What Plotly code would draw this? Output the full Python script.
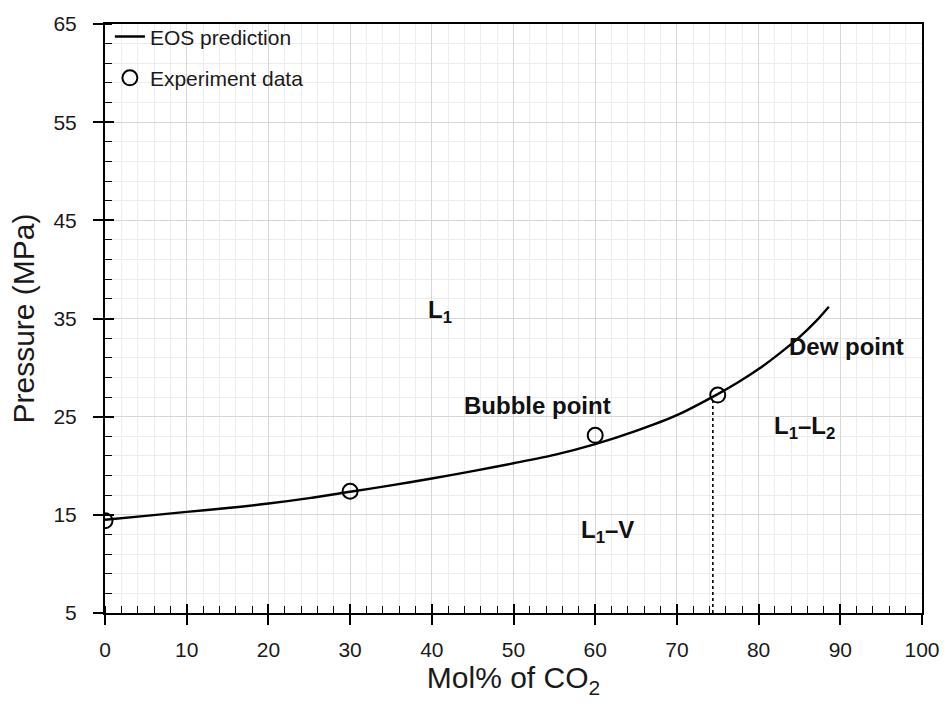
import plotly.graph_objects as go

# EOS-predicted saturation pressure curve
eos_co2 = [0, 5, 10, 15, 20, 25, 30, 35, 40, 45, 50, 55, 60, 65, 70, 75, 77.5, 80,
           82.5, 85, 87, 88.6]
eos_p = [14.5, 14.9, 15.3, 15.7, 16.15, 16.7, 17.35, 18.0, 18.7, 19.45, 20.25, 21.1,
         22.2, 23.55, 25.15, 27.3, 28.5, 29.85, 31.4, 33.1, 34.7, 36.2]

# Measured saturation pressures
exp_co2 = [0, 30, 60, 75]
exp_p = [14.4, 17.4, 23.1, 27.2]

# Boundary between bubble-point and dew-point behaviour
split_co2 = [74.4, 74.4]
split_p = [5, 26.6]

# Region labels
region_text = ["L<sub>1</sub>", "Bubble point", "L<sub>1</sub>\u2013V", "Dew point",
               "L<sub>1</sub>\u2013L<sub>2</sub>"]
region_x = [41.0, 52.9, 61.5, 90.8, 85.6]
region_y = [35.7, 26.1, 13.3, 32.1, 23.9]

x_ticks = list(range(0, 101, 10))
y_ticks = list(range(5, 66, 10))

FONT = "Liberation Sans"

fig = go.Figure()

fig.add_trace(go.Scatter(
    x=split_co2, y=split_p, mode="lines",
    line=dict(color="black", width=1.6, dash="dot"),
    showlegend=False, hoverinfo="skip"))

fig.add_trace(go.Scatter(
    x=eos_co2, y=eos_p, mode="lines", name="EOS prediction", legendgroup="eos",
    line=dict(color="black", width=2.4, shape="spline", smoothing=0.8)))

fig.add_trace(go.Scatter(
    x=exp_co2, y=exp_p, mode="markers", name="Experiment data", legendgroup="exp",
    marker=dict(symbol="circle-open", size=15, color="black",
                line=dict(color="black", width=2))))

for t, xv, yv in zip(region_text, region_x, region_y):
    fig.add_annotation(x=xv, y=yv, text=f"<b>{t}</b>", showarrow=False,
                       font=dict(family=FONT, size=24, color="#111111"))

axis_common = dict(
    showline=True, linecolor="black", linewidth=2, mirror=True,
    ticks="outside", ticklen=10, tickwidth=1.5, tickcolor="black",
    showgrid=True, gridcolor="#d6d6d6", gridwidth=1,
    zeroline=False,
    tickfont=dict(family=FONT, size=21, color="#1a1a1a"),
)

fig.update_layout(
    width=952, height=708,
    margin=dict(l=105, r=29, t=17, b=95),
    paper_bgcolor="white", plot_bgcolor="white",
    xaxis=dict(
        range=[0, 100], tickvals=x_ticks, ticktext=[str(v) for v in x_ticks],
        minor=dict(dtick=2, tick0=0, ticks="inside", ticklen=7, tickcolor="black",
                   tickwidth=1.2, showgrid=True, gridcolor="#ececec", gridwidth=1),
        title=dict(text="Mol% of CO<sub>2</sub>", font=dict(family=FONT, size=30, color="#1a1a1a"),
                   standoff=0),
        ticklabelstandoff=7,
        **axis_common),
    yaxis=dict(
        range=[5, 65], tickvals=y_ticks, ticktext=[str(v) for v in y_ticks],
        minor=dict(dtick=2, tick0=5, ticks="inside", ticklen=7, tickcolor="black",
                   tickwidth=1.2, showgrid=True, gridcolor="#ececec", gridwidth=1),
        title=dict(text="Pressure (MPa)", font=dict(family=FONT, size=30, color="#1a1a1a"),
                   standoff=10),
        ticklabelstandoff=12,
        **axis_common),
    # inner halves of the major ticks, so they cross the axis line
    xaxis2=dict(overlaying="x", matches="x", range=[0, 100], tickvals=x_ticks,
                ticks="inside", ticklen=9, tickwidth=1.5, tickcolor="black",
                showticklabels=False, showgrid=False, zeroline=False, showline=False),
    yaxis2=dict(overlaying="y", matches="y", range=[5, 65], tickvals=y_ticks,
                ticks="inside", ticklen=9, tickwidth=1.5, tickcolor="black",
                showticklabels=False, showgrid=False, zeroline=False, showline=False),
    legend=dict(x=0.006, y=1.013, xanchor="left", yanchor="top", traceorder="grouped",
                bgcolor="rgba(255,255,255,0)", font=dict(family=FONT, size=21, color="#1a1a1a"),
                tracegroupgap=11),
    showlegend=True,
)

# dummy trace to bring the secondary axes into the layout
fig.add_trace(go.Scatter(x=[None], y=[None], xaxis="x2", yaxis="y2",
                         showlegend=False, hoverinfo="skip"))

fig.write_html("out.html")
